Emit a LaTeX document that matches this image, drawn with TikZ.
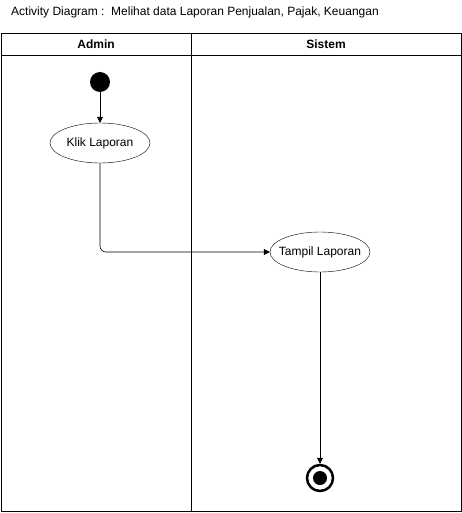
\documentclass[tikz,border=0pt]{standalone}
\usepackage{fontspec}
\setmainfont{Liberation Sans}
\usetikzlibrary{arrows.meta, shapes.geometric}
\begin{document}
\begin{tikzpicture}[x=1pt, y=-1pt, font=\fontsize{12}{14}\selectfont,
  act/.style={ellipse, draw, minimum width=100pt, minimum height=40pt, inner xsep=-10pt, inner ysep=0pt},
  flow/.style={-{Triangle[length=6pt,width=6pt]}, line width=0.6pt},
  lane/.style={draw, line width=0.8pt}]
\useasboundingbox (0,0) rectangle (462,513);
\node[anchor=west, inner sep=0pt] (title) at (11,12){Activity Diagram :\ \ Melihat data Laporan Penjualan, Pajak, Keuangan};
\draw[lane] (1,33) rectangle (461,511);
\draw[lane] (1,55) -- (461,55);
\draw[lane] (191,33) -- (191,511);
\node[font=\fontsize{12}{14}\selectfont\bfseries] (admin) at (96,44){Admin};
\node[font=\fontsize{12}{14}\selectfont\bfseries] (sistem) at (326,44){Sistem};
\node[circle, fill, minimum size=20pt, inner sep=0pt] (start) at (100,82){};
\node[act] (klik) at (100,143){Klik Laporan};
\node[act] (tampil) at (320,252){Tampil Laporan};
\node[circle, draw, line width=2.5pt, minimum size=26pt, inner sep=0pt] (end) at (320,478){};
\node[circle, fill, minimum size=14pt, inner sep=0pt] (endin) at (320,478){};
\draw[flow] (start) -- (klik);
\draw[flow, rounded corners=6pt] (klik.south) |- (tampil.west);
\draw[flow] (tampil) -- (end);
\end{tikzpicture}
\end{document}
